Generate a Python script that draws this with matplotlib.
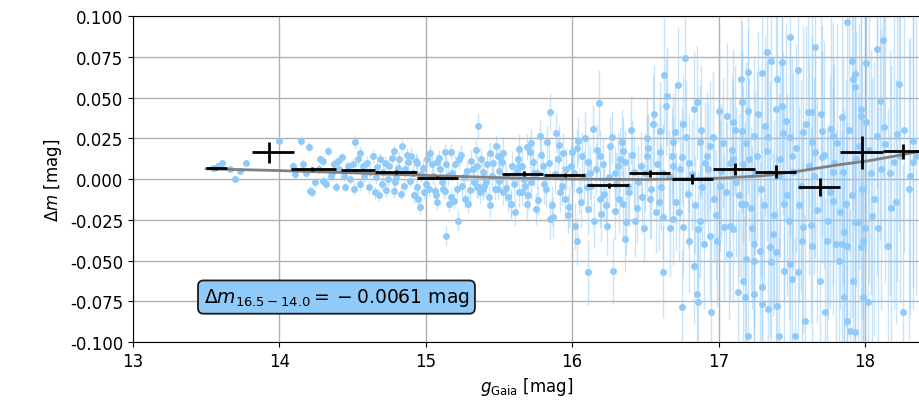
import numpy as np
import matplotlib
matplotlib.use('Agg')
import matplotlib.pyplot as plt

# Pontos individuais: magnitude Gaia, diferenca e erro
g_mag = [
    13.55, 13.58, 13.61, 13.66, 13.70, 13.73, 13.77,
    14.00, 14.15, 14.20, 14.09, 14.11, 14.16, 14.33, 14.30, 14.43, 14.52, 14.55,
    14.21, 14.24, 14.30, 14.39, 14.45, 14.55, 14.65, 14.73, 14.78, 14.62, 14.57,
    14.67, 14.71, 14.41, 14.48, 14.35, 14.22, 14.18, 14.27, 14.37, 14.50, 14.60,
    14.69, 14.75, 14.80, 14.86, 14.90, 14.97, 15.01, 15.10, 15.15, 15.20, 15.23,
    15.28, 15.31, 15.33, 15.42, 15.45, 15.50, 14.92, 15.00, 15.27, 15.30, 15.43,
    14.70, 14.85,
    14.78, 14.84, 14.82, 14.88, 14.94, 15.04, 15.08, 15.13, 15.17, 14.94, 14.96,
    14.99, 15.06, 15.08, 15.12, 15.13, 15.17, 15.19, 15.22, 15.14, 15.25,
    15.36, 15.44, 15.49, 15.52, 15.35, 15.39, 15.69, 15.64, 15.55, 15.66, 15.35,
    15.36, 15.40, 15.47, 15.53, 15.58, 15.68, 15.39, 15.49,
    15.85, 16.14, 16.18, 15.78, 15.83, 15.91, 16.04, 16.00, 15.51, 15.64, 15.71,
    15.73, 15.66, 16.07, 16.11, 16.19, 16.26, 16.34, 16.36, 16.51, 16.55, 16.60,
    16.63, 16.64, 16.65, 16.72, 16.77, 16.83, 16.85, 16.70, 16.69, 16.60, 16.78,
    16.87, 16.92, 17.00, 17.06, 17.10, 17.15, 17.16, 17.20, 17.20, 17.16, 17.24,
    17.30, 17.32, 17.33, 17.36, 17.43, 17.40, 17.39, 17.43, 17.46, 17.49, 17.54,
    17.49, 17.58, 17.61, 17.64, 17.66, 17.71, 17.77, 17.78, 17.84, 17.88, 17.91,
    17.92, 17.93, 17.93, 17.97, 17.97, 18.01, 18.01, 18.08, 18.12, 18.10, 18.23,
    18.08, 18.22, 18.20, 18.33, 18.33, 18.14, 17.64, 17.66, 17.71, 17.78, 17.85,
    17.51, 17.10, 17.21, 17.33, 16.94, 16.69, 16.75, 16.51, 16.42, 16.31, 15.90,
    15.96, 15.80,
    15.58, 15.64, 15.69, 15.75, 15.85, 15.87, 15.95, 15.98, 16.02, 16.03, 16.11,
    16.11, 16.19, 16.20, 16.24, 16.28, 16.29, 16.35, 16.37, 16.36, 16.43, 16.48,
    16.57, 16.62, 16.62, 16.69, 16.75, 16.76, 16.80, 16.83, 16.85, 16.86, 16.86,
    16.87, 16.94, 16.95, 16.99, 17.04, 17.08, 17.10, 17.15, 17.18, 17.13, 17.17,
    17.18, 17.20, 17.19, 17.24, 17.24, 17.24, 17.28, 17.30, 17.30, 17.34, 17.35,
    17.36, 17.39, 17.40, 17.41, 17.45, 17.45, 17.49, 17.50, 17.52, 17.54, 17.57,
    17.58, 17.59, 17.64, 17.69, 17.73, 17.74, 17.78, 17.80, 17.82, 17.84, 17.86,
    17.88, 17.88, 17.90, 17.93, 17.92, 17.86, 17.93, 17.95, 17.97, 17.99, 17.99,
    18.02, 18.05, 18.16, 18.26,
    15.55, 15.60, 15.62, 15.72, 15.76, 15.82, 15.88, 15.93, 15.99, 16.05, 16.08,
    16.13, 16.16, 16.22, 16.25, 16.30, 16.33, 16.39, 16.41, 16.45, 16.50, 16.53,
    16.58, 16.61, 16.66, 16.71, 16.74, 16.79, 16.82, 16.89, 16.91, 16.97, 17.02,
    17.05, 17.09, 17.12, 17.17, 17.22, 17.26, 17.29, 17.35, 17.38, 17.42, 17.47,
    17.53, 17.56, 17.62, 17.67, 17.72, 17.76, 17.81, 17.87, 17.94, 17.98, 18.03,
    18.06, 18.11, 18.18, 18.24, 18.30,
]
dm = [
    0.0065, 0.0080, 0.0098, 0.0061, 0.0000, 0.0049, 0.0098,
    0.0233, 0.0233, 0.0196, 0.0080, 0.0031, 0.0092, 0.0172, 0.0110, 0.0135, 0.0227, 0.0160,
    -0.0074, -0.0018, -0.0012, -0.0049, -0.0049, -0.0031, -0.0080, -0.0067, -0.0074, 0.0043, 0.0080,
    0.0074, 0.0043, 0.0061, 0.0000, 0.0018, -0.0080, 0.0040, 0.0060, 0.0090, 0.0090, 0.0100,
    0.0120, 0.0080, 0.0020, 0.0060, 0.0140, 0.0030, 0.0120, 0.0060, 0.0020, 0.0090, 0.0120,
    0.0050, 0.0110, -0.0020, 0.0090, 0.0020, -0.0010, -0.0100, -0.0030, -0.0120, -0.0070, -0.0110,
    -0.0030, -0.0040,
    0.0172, 0.0202, 0.0123, 0.0104, 0.0098, 0.0092, 0.0104, 0.0166, 0.0166, -0.0049, -0.0172,
    -0.0080, -0.0074, -0.0141, -0.0061, -0.0074, -0.0110, -0.0135, -0.0258, -0.0350, -0.0043,
    0.0325, 0.0160, 0.0141, 0.0104, 0.0080, 0.0043, 0.0196, 0.0080, -0.0055, -0.0080, -0.0049,
    -0.0049, -0.0043, -0.0061, -0.0080, -0.0153, -0.0043, -0.0061, -0.0061,
    0.0411, 0.0307, 0.0466, 0.0264, 0.0227, 0.0209, 0.0233, 0.0166, 0.0135, 0.0184, 0.0166,
    0.0104, 0.0080, 0.0141, 0.0104, 0.0141, 0.0202, 0.0227, 0.0104, 0.0252, 0.0337, 0.0294,
    0.0638, 0.0448, 0.0509, 0.0577, 0.0742, 0.0429, 0.0472, 0.0288, 0.0227, 0.0166, 0.0258,
    0.0227, 0.0141, 0.0417, 0.0387, 0.0350, 0.0613, 0.0472, 0.0656, 0.0417, 0.0294, 0.0264,
    0.0650, 0.0325, 0.0779, 0.0724, 0.0718, 0.0613, 0.0429, 0.0448, 0.0356, 0.0871, 0.0669,
    0.0258, 0.0288, 0.0411, 0.0411, 0.0810, 0.0294, 0.0307, 0.0264, 0.0380, 0.0963, 0.0724,
    0.0613, 0.0644, 0.0564, 0.0429, 0.0387, 0.0712, 0.0350, 0.0798, 0.0853, 0.0479, 0.0583,
    0.0264, 0.0276, 0.0104, 0.0104, 0.0233, 0.0215, 0.0227, 0.0166, 0.0135, 0.0043, 0.0043,
    0.0043, 0.0123, 0.0123, 0.0172, 0.0202, 0.0080, 0.0135, 0.0141, 0.0043, 0.0080, 0.0123,
    0.0061, 0.0080,
    -0.0153, -0.0080, -0.0153, -0.0184, -0.0245, -0.0233, -0.0123, -0.0172, -0.0288, -0.0380, -0.0571,
    -0.0184, -0.0123, -0.0215, -0.0288, -0.0564, -0.0196, -0.0153, -0.0264, -0.0368, -0.0258, -0.0110,
    -0.0202, -0.0571, -0.0233, -0.0245, -0.0785, -0.0294, -0.0380, -0.0534, -0.0706, -0.0755, -0.0307,
    -0.0258, -0.0350, -0.0816, -0.0380, -0.0294, -0.0288, -0.0307, -0.0153, -0.0153, -0.0693, -0.0626,
    -0.0724, -0.0963, -0.0491, -0.0503, -0.0706, -0.0399, -0.0442, -0.0663, -0.0767, -0.0798, -0.0417,
    -0.0509, -0.0448, -0.0779, -0.0963, -0.0153, -0.0564, -0.0521, -0.0613, -0.0963, -0.0571, -0.0380,
    -0.0294, -0.0871, -0.0411, -0.0626, -0.0816, -0.0380, -0.0135, -0.0399, -0.0503, -0.0399, -0.0325,
    -0.0411, -0.0871, -0.0933, -0.0939, -0.0626, -0.0724, -0.0264, -0.0264, -0.0417, -0.0380, -0.0724,
    -0.0755, -0.0227, -0.0411, -0.0816,
    0.0020, -0.0030, 0.0050, -0.0020, 0.0040, -0.0060, 0.0030, -0.0040, 0.0080, -0.0070, 0.0020,
    -0.0040, 0.0060, -0.0090, 0.0010, -0.0030, 0.0120, -0.0080, 0.0150, -0.0020, 0.0040, -0.0120,
    0.0090, -0.0050, 0.0020, -0.0140, 0.0060, -0.0090, 0.0030, -0.0050, 0.0100, -0.0120, 0.0050,
    -0.0080, 0.0180, -0.0020, 0.0090, -0.0180, 0.0140, -0.0060, 0.0040, -0.0220, 0.0120, -0.0100,
    0.0190, -0.0040, 0.0080, -0.0190, 0.0150, -0.0080, 0.0220, -0.0150, 0.0120, -0.0060, 0.0180,
    -0.0120, 0.0060, -0.0180, 0.0140, -0.0060,
]
dm_err = [
    0.002, 0.002, 0.002, 0.002, 0.002, 0.002, 0.002,
    0.003, 0.003, 0.003, 0.003, 0.003, 0.003, 0.003, 0.003, 0.003, 0.004, 0.004,
    0.003, 0.003, 0.003, 0.003, 0.003, 0.004, 0.004, 0.004, 0.004, 0.004, 0.004,
    0.004, 0.004, 0.003, 0.003, 0.003, 0.003, 0.003, 0.003, 0.003, 0.004, 0.004,
    0.004, 0.004, 0.004, 0.005, 0.005, 0.005, 0.005, 0.005, 0.006, 0.006, 0.006,
    0.006, 0.007, 0.007, 0.007, 0.007, 0.007, 0.005, 0.005, 0.006, 0.007, 0.007,
    0.004, 0.004,
    0.004, 0.004, 0.004, 0.004, 0.005, 0.005, 0.005, 0.005, 0.005, 0.005, 0.005,
    0.005, 0.005, 0.005, 0.005, 0.005, 0.005, 0.005, 0.006, 0.006, 0.006,
    0.008, 0.007, 0.007, 0.007, 0.007, 0.007, 0.008, 0.008, 0.008, 0.008, 0.007,
    0.007, 0.007, 0.007, 0.008, 0.008, 0.008, 0.007, 0.007,
    0.012, 0.015, 0.020, 0.010, 0.010, 0.012, 0.014, 0.013, 0.008, 0.009, 0.010,
    0.010, 0.009, 0.015, 0.015, 0.016, 0.018, 0.020, 0.020, 0.025, 0.030, 0.030,
    0.035, 0.030, 0.030, 0.035, 0.040, 0.035, 0.035, 0.030, 0.030, 0.030, 0.035,
    0.035, 0.040, 0.040, 0.045, 0.045, 0.050, 0.050, 0.050, 0.050, 0.050, 0.050,
    0.060, 0.055, 0.060, 0.060, 0.060, 0.060, 0.060, 0.060, 0.060, 0.070, 0.070,
    0.060, 0.065, 0.065, 0.065, 0.070, 0.065, 0.070, 0.070, 0.070, 0.080, 0.080,
    0.080, 0.080, 0.080, 0.080, 0.080, 0.080, 0.080, 0.085, 0.085, 0.085, 0.090,
    0.085, 0.090, 0.090, 0.090, 0.090, 0.085, 0.065, 0.065, 0.065, 0.070, 0.070,
    0.060, 0.045, 0.050, 0.055, 0.040, 0.030, 0.030, 0.025, 0.022, 0.020, 0.012,
    0.013, 0.010,
    0.009, 0.009, 0.010, 0.010, 0.012, 0.012, 0.013, 0.013, 0.014, 0.015, 0.020,
    0.016, 0.017, 0.017, 0.018, 0.020, 0.018, 0.020, 0.020, 0.020, 0.022, 0.022,
    0.025, 0.028, 0.026, 0.028, 0.035, 0.030, 0.032, 0.035, 0.040, 0.040, 0.035,
    0.035, 0.040, 0.045, 0.040, 0.045, 0.045, 0.045, 0.045, 0.050, 0.050, 0.050,
    0.050, 0.050, 0.050, 0.050, 0.050, 0.050, 0.055, 0.055, 0.055, 0.055, 0.055,
    0.055, 0.060, 0.060, 0.060, 0.060, 0.060, 0.060, 0.060, 0.060, 0.065, 0.065,
    0.065, 0.065, 0.065, 0.070, 0.070, 0.070, 0.070, 0.070, 0.070, 0.070, 0.075,
    0.075, 0.075, 0.075, 0.075, 0.075, 0.075, 0.080, 0.080, 0.080, 0.080, 0.080,
    0.080, 0.085, 0.085, 0.090,
    0.008, 0.008, 0.009, 0.010, 0.010, 0.011, 0.012, 0.012, 0.013, 0.014, 0.015,
    0.016, 0.016, 0.017, 0.018, 0.019, 0.020, 0.021, 0.021, 0.022, 0.024, 0.025,
    0.026, 0.027, 0.028, 0.030, 0.031, 0.033, 0.034, 0.036, 0.037, 0.039, 0.041,
    0.043, 0.045, 0.046, 0.048, 0.050, 0.052, 0.054, 0.056, 0.058, 0.060, 0.062,
    0.064, 0.065, 0.067, 0.069, 0.070, 0.072, 0.074, 0.076, 0.078, 0.080, 0.082,
    0.084, 0.086, 0.088, 0.090, 0.092,
]

# Pontos da faixa densa em torno de zero
band_g = [
    14.28, 14.32, 14.36, 14.40, 14.44, 14.47, 14.51, 14.54, 14.58, 14.61,
    14.64, 14.66, 14.68, 14.72, 14.74, 14.77, 14.79, 14.81, 14.83, 14.87,
    14.89, 14.91, 14.93, 14.95, 14.98, 15.02, 15.03, 15.05, 15.07, 15.09,
    15.11, 15.14, 15.16, 15.18, 15.21, 15.24, 15.26, 15.29, 15.32, 15.34,
    15.37, 15.38, 15.41, 15.44, 15.46, 15.48, 15.50,
    15.53, 15.56, 15.59, 15.61, 15.63, 15.67, 15.70, 15.72, 15.74, 15.77,
    15.79, 15.81, 15.84, 15.86, 15.89, 15.92, 15.94, 15.97, 16.01, 16.03,
    16.06, 16.09, 16.10, 16.12, 16.15, 16.17, 16.21, 16.23, 16.27, 16.29,
    16.32, 16.35, 16.38, 16.40, 16.44, 16.47, 16.49, 16.52,
    16.54, 16.56, 16.59, 16.62, 16.67, 16.68, 16.73, 16.76, 16.80, 16.84,
    16.88, 16.90, 16.93, 16.96, 16.98, 17.01, 17.03, 17.07, 17.08, 17.11,
    17.14, 17.19, 17.23, 17.25, 17.27, 17.31, 17.34, 17.37, 17.41, 17.44,
    17.48, 17.50, 17.55, 17.60, 17.63, 17.65, 17.70, 17.75, 17.79, 17.83,
    17.89, 17.91, 17.96, 18.00, 18.04, 18.09, 18.13, 18.17, 18.21, 18.27,
    18.31, 18.35,
]
band_dm = [
    0.012, -0.003, 0.004, 0.011, 0.002, 0.008, -0.006, 0.012, 0.002, -0.005,
    0.014, 0.001, -0.010, 0.010, 0.000, 0.013, -0.002, 0.007, -0.009, 0.015,
    -0.001, 0.004, 0.011, -0.012, 0.007, -0.006, 0.016, 0.002, -0.010, 0.013,
    -0.002, 0.009, -0.015, 0.004, -0.006, 0.015, 0.001, -0.015, 0.006, 0.018,
    -0.008, 0.012, -0.002, -0.016, 0.010, 0.020, 0.005,
    0.016, -0.011, 0.008, -0.020, 0.012, 0.000, -0.010, 0.022, 0.004, -0.013,
    0.015, -0.003, 0.010, -0.016, 0.028, -0.008, 0.016, -0.022, 0.004, 0.019,
    -0.014, 0.025, -0.005, 0.004, -0.026, 0.018, 0.009, -0.016, 0.026, 0.004,
    -0.012, 0.017, -0.004, 0.030, -0.018, 0.008, -0.030, 0.019,
    -0.006, 0.040, -0.014, 0.004, -0.030, 0.014, -0.020, 0.034, 0.010, -0.016,
    0.030, -0.040, 0.006, 0.026, -0.022, -0.004, 0.022, -0.046, 0.010, 0.030,
    -0.010, 0.022, -0.030, 0.004, 0.040, -0.016, 0.026, -0.034, 0.002, 0.028,
    -0.026, 0.014, -0.016, 0.034, -0.028, 0.002, 0.040, -0.026, 0.010, -0.020,
    0.030, -0.010, 0.020, -0.030, 0.004, -0.030, 0.032, 0.004, -0.014, 0.030,
    0.002, 0.014,
]
band_err = [
    0.003, 0.003, 0.003, 0.003, 0.003, 0.003, 0.004, 0.004, 0.004, 0.004,
    0.004, 0.004, 0.004, 0.004, 0.004, 0.004, 0.004, 0.004, 0.004, 0.004,
    0.004, 0.005, 0.005, 0.005, 0.005, 0.005, 0.005, 0.005, 0.005, 0.005,
    0.005, 0.005, 0.005, 0.005, 0.005, 0.006, 0.006, 0.006, 0.006, 0.006,
    0.007, 0.007, 0.007, 0.007, 0.007, 0.007, 0.007,
    0.009, 0.009, 0.009, 0.009, 0.009, 0.009, 0.009, 0.009, 0.009, 0.009,
    0.012, 0.012, 0.012, 0.012, 0.012, 0.012, 0.012, 0.012, 0.012, 0.012,
    0.016, 0.016, 0.016, 0.016, 0.016, 0.016, 0.016, 0.016, 0.016, 0.016,
    0.021, 0.021, 0.021, 0.021, 0.021, 0.021, 0.021, 0.021,
    0.030, 0.030, 0.030, 0.030, 0.030, 0.030, 0.030, 0.030, 0.030, 0.030,
    0.040, 0.040, 0.040, 0.040, 0.040, 0.040, 0.040, 0.040, 0.040, 0.040,
    0.050, 0.050, 0.050, 0.050, 0.050, 0.050, 0.050, 0.050, 0.050, 0.050,
    0.060, 0.060, 0.060, 0.060, 0.060, 0.060, 0.060, 0.060, 0.060, 0.060,
    0.075, 0.075, 0.075, 0.075, 0.075, 0.075, 0.075, 0.075, 0.075, 0.075,
    0.085, 0.085,
]

# Medias por intervalo (cruzes pretas)
bin_g = [13.57, 13.93, 14.22, 14.52, 14.80, 15.08, 15.67, 15.95, 16.25, 16.53,
         16.82, 17.11, 17.39, 17.69, 17.98, 18.26]
bin_lo = [13.50, 13.81, 14.08, 14.42, 14.65, 14.94, 15.52, 15.81, 16.10, 16.39,
          16.68, 16.96, 17.25, 17.54, 17.83, 18.12]
bin_hi = [13.64, 14.10, 14.39, 14.65, 14.94, 15.22, 15.80, 16.09, 16.39, 16.67,
          16.96, 17.25, 17.53, 17.83, 18.12, 18.40]
bin_dm = [0.0066, 0.0164, 0.0060, 0.0055, 0.0041, 0.0008, 0.0032, 0.0025, -0.0037, 0.0035,
          0.0000, 0.0061, 0.0045, -0.0047, 0.0164, 0.0170]
bin_err = [0.0010, 0.0064, 0.0012, 0.0008, 0.0012, 0.0010, 0.0015, 0.0012, 0.0015, 0.0022,
           0.0028, 0.0035, 0.0040, 0.0056, 0.0100, 0.0046]

# Curva de tendencia (cinza)
trend_g = [13.50, 14.00, 14.50, 15.00, 15.50, 16.00, 16.50, 17.00, 17.30, 17.56,
           17.80, 18.01, 18.20, 18.40]
trend_dm = [0.0063, 0.0052, 0.0038, 0.0022, 0.0009, 0.0000, -0.0003, 0.0005, 0.0020, 0.0050,
            0.0085, 0.0110, 0.0140, 0.0175]

azul = '#90caf9'

fig = plt.figure(figsize=(9.19, 4.06), dpi=100)
ax = fig.add_axes([0.1447, 0.155, 0.8575, 0.803])

todos_g = g_mag + band_g
todos_dm = dm + band_dm
todos_err = dm_err + band_err

ax.errorbar(todos_g, todos_dm, yerr=todos_err, fmt='none', ecolor=azul, elinewidth=1.0,
            alpha=0.5, zorder=2)
ax.plot(todos_g, todos_dm, 'o', color=azul, ms=5, mec='none', zorder=3)

ax.plot(trend_g, trend_dm, color='gray', lw=2, zorder=4)

xerr = [np.array(bin_g) - np.array(bin_lo), np.array(bin_hi) - np.array(bin_g)]
ax.errorbar(bin_g, bin_dm, xerr=xerr, yerr=bin_err, fmt='none', ecolor='black',
            elinewidth=2, capsize=0, zorder=5)

ax.text(14.39, -0.0724, r'$\Delta m_{16.5-14.0} = {}-0.0061$ mag', fontsize=13.5,
        ha='center', va='center', zorder=6,
        bbox=dict(boxstyle='round,pad=0.3', fc=azul, ec='#1a1a1a', lw=1.3))

yt = np.arange(-0.1, 0.1001, 0.025)
ax.set_xlim(13, 18.383)
ax.set_ylim(-0.1, 0.1)
ax.set_yticks(yt)
ax.set_yticklabels(['%.3f' % v if v < -1e-9 else '%.3f' % abs(v) for v in yt])
ax.set_xticks([13, 14, 15, 16, 17, 18])
ax.tick_params(labelsize=12)
ax.grid(True, color='#b0b0b0', lw=1)
ax.set_axisbelow(True)
ax.set_xlabel(r'$g_\mathrm{Gaia}$ [mag]', fontsize=12)
ax.set_ylabel(r'$\Delta m$ [mag]', fontsize=12)

fig.savefig('out.png', dpi=100)
